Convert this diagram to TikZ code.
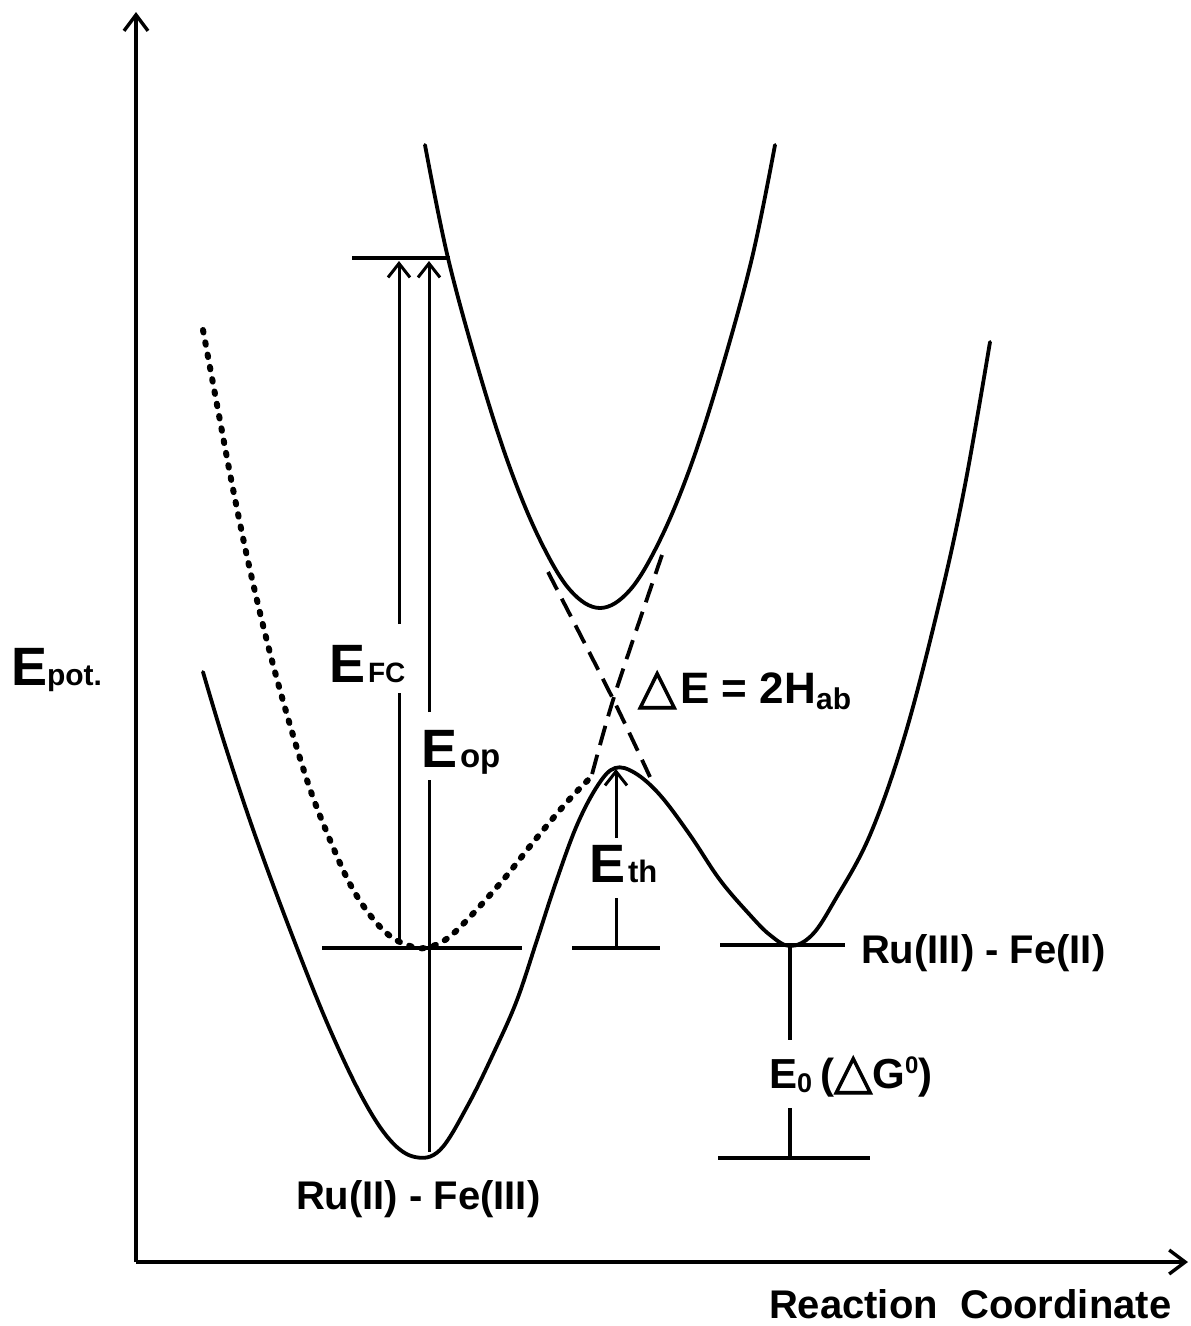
\documentclass[tikz,border=0pt]{standalone}
\usepackage{fontspec}
\setmainfont{Liberation Sans}
\newfontfamily\tri{DejaVu Sans}[FakeBold=2]
\usetikzlibrary{arrows.meta}
\begin{document}
\begin{tikzpicture}[x=1pt,y=-1pt,
  curve/.style={line width=3.8pt, line join=round, line cap=round},
  levelline/.style={line width=4.5pt},
  axisline/.style={line width=3.4pt, -{Straight Barb[length=16pt,width=24pt,line width=3.4pt]}},
  vline/.style={line width=3pt},
  energyarrow/.style={line width=3pt, -{Straight Barb[length=14pt,width=22pt,line width=3pt]}},
  dotcurve/.style={line width=6pt, line cap=round, dash pattern=on 2.5pt off 10pt},
  dashcurve/.style={line width=3.8pt, dash pattern=on 20pt off 10pt},
  lbl/.style={font=\bfseries\fontsize{40}{48}\selectfont, inner sep=0pt, outer sep=0pt, anchor=base west},
]
\useasboundingbox (0,0) rectangle (1191,1326);

% axes
\coordinate (O) at (136,1262);
\coordinate (Ytip) at (136,12);
\coordinate (Xtip) at (1188,1262);
\draw[axisline] (O) -- (Ytip);
\draw[axisline] (O) -- (Xtip);

% upper adiabatic surface
\draw[curve] plot[smooth, tension=0.6] coordinates {(425,145) (448,258) (480,375) (510,468) (540,540) (570,590) (600,608) (630,590) (660,540) (690,468) (720,375) (752,258) (775,145)};

% lower adiabatic surface (double well)
\draw[curve] plot[smooth, tension=0.6] coordinates {(203,672) (225,745) (255,835) (292,935) (328,1025) (362,1097) (390,1140) (415,1157) (440,1150) (468,1105) (495,1050) (517,1000) (537,940) (556,882) (577,825) (598,785) (615,768) (635,773) (660,795) (690,835) (720,880) (750,915) (770,935) (790,946) (812,935) (835,900) (870,835) (905,735) (940,600) (965,485) (990,342)};

% dotted diabatic curve
\draw[dotcurve] plot[smooth, tension=0.6] coordinates {(203,330) (218,410) (233,489) (250,570) (270,653) (290,725) (310,789) (330,840) (350,884) (370,915) (390,936) (410,946) (425,948) (445,940) (467,920) (503,880) (535,840) (567,802) (593,775)};

% dashed diabatic crossings
\draw[dashcurve] plot[smooth] coordinates {(548,572) (612,697) (650,777)};
\draw[dashcurve] plot[smooth] coordinates {(662,555) (614,697) (590,782)};

% energy levels
\coordinate (fcL) at (352,258); \coordinate (fcR) at (450,258);
\coordinate (aL) at (322,948); \coordinate (aR) at (522,948);
\coordinate (bL) at (572,948); \coordinate (bR) at (660,948);
\coordinate (cL) at (720,945); \coordinate (cR) at (845,945);
\coordinate (dL) at (718,1158); \coordinate (dR) at (870,1158);
\draw[levelline] (fcL) -- (fcR);
\draw[levelline] (aL) -- (aR);
\draw[levelline] (bL) -- (bR);
\draw[levelline] (cL) -- (cR);
\draw[levelline] (dL) -- (dR);

% labels
\node[lbl] (Epot) at (11,685) {{\fontsize{54}{54}\selectfont E}{\fontsize{30}{30}\selectfont pot.}};
\node[lbl] (EFC) at (329,682) {{\fontsize{54}{54}\selectfont E}\hspace{3pt}{\fontsize{28}{28}\selectfont FC}};
\node[lbl] (Eop) at (421,767) {{\fontsize{54}{54}\selectfont E}\hspace{3pt}{\fontsize{33}{33}\selectfont op}};
\node[lbl] (Eth) at (589,882) {{\fontsize{54}{54}\selectfont E}\hspace{3pt}{\fontsize{31}{31}\selectfont th}};
\node[lbl, font=\bfseries\fontsize{44}{48}\selectfont] (dE) at (638,703) {{\tri\fontsize{50}{50}\selectfont △}\hspace{4pt}E = 2H\raisebox{-6pt}{\fontsize{30}{30}\selectfont ab}};
\node[lbl] (RuIII) at (861,963) {Ru(III) - Fe(II)};
\node[lbl] (RuII) at (296,1209) {Ru(II) - Fe(III)};
\node[lbl, font=\bfseries\fontsize{42}{48}\selectfont] (E0) at (769,1088) {E\raisebox{-4pt}{\fontsize{27}{27}\selectfont 0}\hspace{8pt}({\tri\fontsize{50}{50}\selectfont △}G\raisebox{15pt}{\fontsize{24}{24}\selectfont 0})};
\node[lbl] (RC) at (769,1318) {Reaction\ \ Coordinate};

% E_FC arrow (broken by its label)
\coordinate (fcA) at (399,940); \coordinate (fcB) at (399,693);
\coordinate (fcC) at (399,624); \coordinate (fcD) at (399,261);
\draw[vline] (fcA) -- (fcB);
\draw[energyarrow] (fcC) -- (fcD);

% E_op arrow
\coordinate (opA) at (429,1152); \coordinate (opB) at (429,780);
\coordinate (opC) at (429,712); \coordinate (opD) at (429,261);
\draw[vline] (opA) -- (opB);
\draw[energyarrow] (opC) -- (opD);

% E_th arrow
\coordinate (thA) at (616,948); \coordinate (thB) at (616,898);
\coordinate (thC) at (616,838); \coordinate (thD) at (616,769);
\draw[vline] (thA) -- (thB);
\draw[energyarrow] (thC) -- (thD);

% E_0 bar
\coordinate (e0A) at (790,945); \coordinate (e0B) at (790,1040);
\coordinate (e0C) at (790,1108); \coordinate (e0D) at (790,1158);
\draw[line width=4pt] (e0A) -- (e0B);
\draw[line width=4pt] (e0C) -- (e0D);
\end{tikzpicture}
\end{document}
